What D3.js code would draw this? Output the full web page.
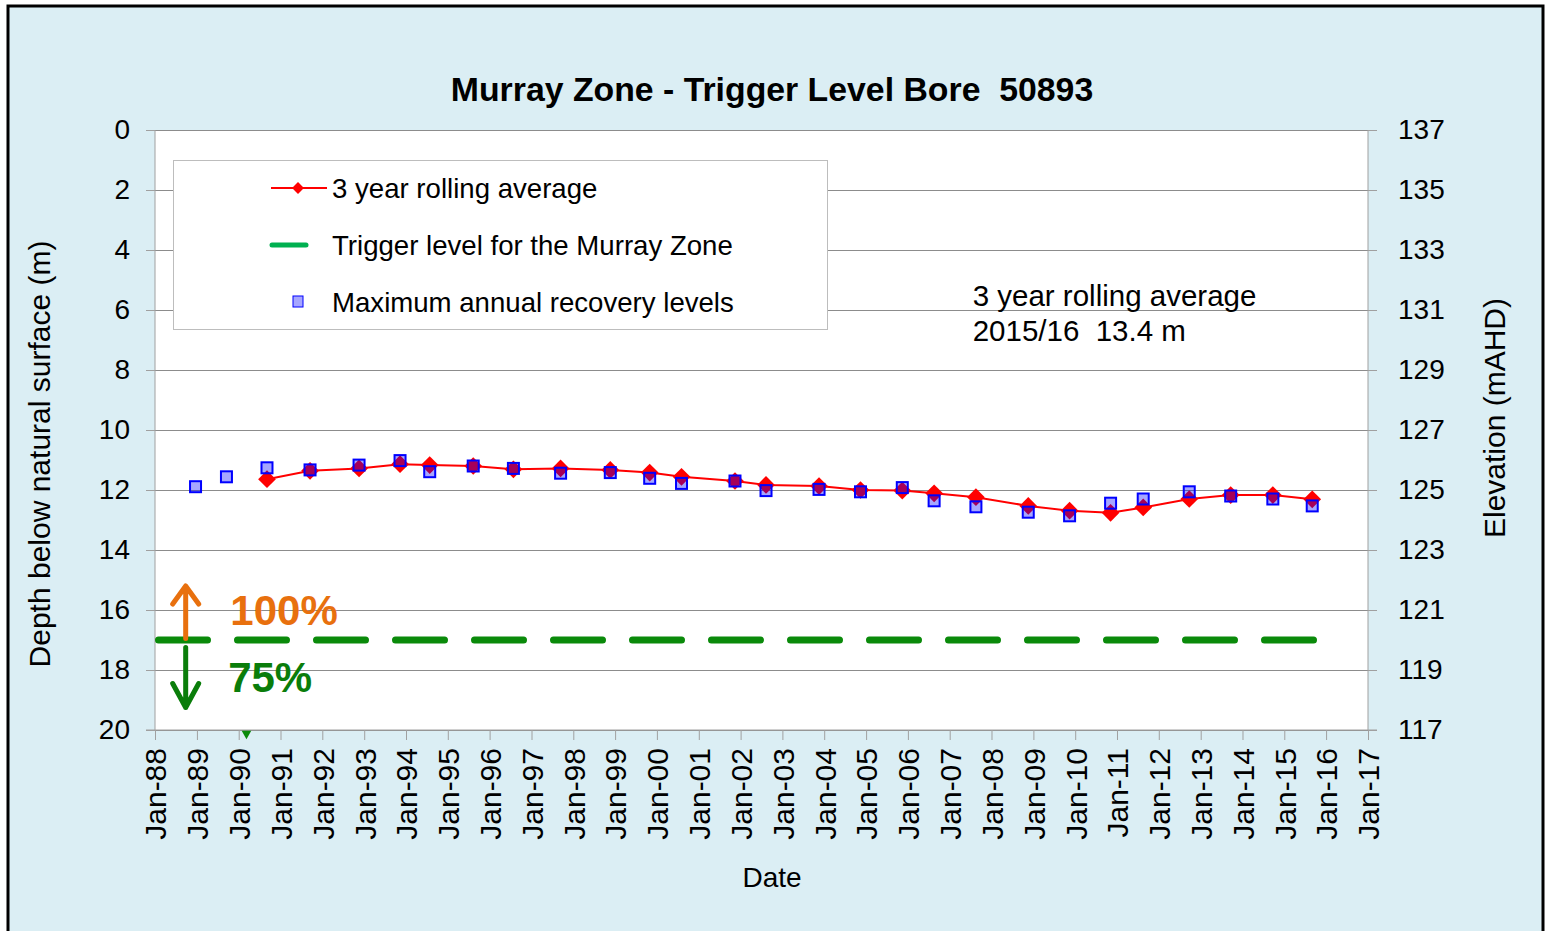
<!DOCTYPE html>
<html>
<head>
<meta charset="utf-8">
<script src="https://cdn.jsdelivr.net/npm/d3@7"></script>
<style>
  body { margin: 0; background: #fff; }
  svg text { font-family: "Liberation Sans", Arial, sans-serif; fill: #000; }
</style>
</head>
<body>
<div id="chart_div"></div>
<script>
// survey dates (same for both series)
var obsDates = ['1988-12-20','1989-09-16','1990-09-05','1991-09-16','1992-11-17','1993-11-10',
  '1994-07-27','1995-08-11','1996-07-27','1997-09-12','1998-11-20','1999-10-30','2000-08-03',
  '2001-11-13','2002-08-11','2003-11-17','2004-11-13','2005-11-13','2006-08-18','2007-08-18',
  '2008-11-17','2009-11-13','2010-11-06','2011-08-18','2012-09-23','2013-09-20','2014-09-23','2015-09-02'];
// maximum annual recovery levels (m below surface)
var maxRecovery = [11.89, 11.56, 11.26, 11.33, 11.17, 11.02, 11.39, 11.20, 11.28, 11.44, 11.42, 11.61, 11.78,
  11.70, 12.02, 11.98, 12.06, 11.92, 12.36, 12.56, 12.74, 12.86, 12.44, 12.30, 12.06, 12.20, 12.30, 12.53];
// 3 year rolling average (starts on the third year)
var rollingAvg = [null, null, 11.64, 11.36, 11.28, 11.14, 11.17, 11.20, 11.31, 11.28, 11.33, 11.42, 11.56,
  11.70, 11.83, 11.87, 12.00, 12.02, 12.11, 12.24, 12.53, 12.69, 12.76, 12.58, 12.30, 12.17, 12.17, 12.31];
// trigger level for the Murray Zone
var triggerDates = ['1988-01-01', '2015-11-05'];
var triggerDepth = [17, 17];
var depthTicks = [0, 2, 4, 6, 8, 10, 12, 14, 16, 18, 20];
var elevTicks = [137, 135, 133, 131, 129, 127, 125, 123, 121, 119, 117];

var W = 1547, H = 931;
var margin = {top: 130, left: 155, right: 179, bottom: 201};
var width = W - margin.left - margin.right,
    height = H - margin.top - margin.bottom;

var parseDate = d3.timeParse('%Y-%m-%d');

var svg = d3.select('#chart_div').append('svg')
  .attr('width', W).attr('height', H);

// outer frame
svg.append('rect')
  .attr('x', 8).attr('y', 6).attr('width', 1535).attr('height', 940)
  .style('fill', '#dbeef4').style('stroke', '#000').style('stroke-width', 3);

var g = svg.append('g').attr('transform', 'translate(' + margin.left + ',' + margin.top + ')');

var xScale = d3.scaleTime()
  .domain([parseDate('1988-01-01'), parseDate('2017-01-01')])
  .range([0, width]);
var yScale = d3.scaleLinear().domain([0, 20]).range([0, height]);
var yElev = d3.scaleLinear().domain([137, 117]).range([0, height]);

g.append('rect')
  .attr('width', width).attr('height', height)
  .style('fill', '#fff');

// gridlines
g.append('g')
  .attr('class', 'grid')
  .call(d3.axisLeft(yScale).tickValues(depthTicks).tickSize(-width).tickFormat(''))
  .call(function(s){ s.select('.domain').remove(); })
  .selectAll('line').style('stroke', '#8c8c8c');

// left axis
g.append('g')
  .attr('class', 'yaxis')
  .call(d3.axisLeft(yScale).tickValues(depthTicks).tickSize(9).tickPadding(16))
  .call(function(s){
    s.select('.domain').attr('d', 'M0,0V' + height).style('stroke', '#a0a0a0');
    s.selectAll('line').style('stroke', '#a0a0a0');
    s.selectAll('text').style('font-size', '28px');
  });

// right axis
g.append('g')
  .attr('class', 'yaxis2')
  .attr('transform', 'translate(' + width + ',0)')
  .call(d3.axisRight(yElev).tickValues(elevTicks).tickSize(9).tickPadding(21))
  .call(function(s){
    s.select('.domain').attr('d', 'M0,0V' + height).style('stroke', '#a0a0a0');
    s.selectAll('line').style('stroke', '#a0a0a0');
    s.selectAll('text').style('font-size', '28px');
  });

// x axis
g.append('g')
  .attr('class', 'xaxis')
  .attr('transform', 'translate(0,' + height + ')')
  .call(d3.axisBottom(xScale).ticks(d3.timeYear.every(1)).tickFormat(d3.timeFormat('%b-%y')).tickSize(10))
  .call(function(s){
    s.select('.domain').attr('d', 'M-9,0H' + (width + 9)).style('stroke', '#a0a0a0');
    s.selectAll('line').style('stroke', '#a0a0a0');
    s.selectAll('text')
      .style('font-size', '30px')
      .attr('text-anchor', 'end')
      .attr('transform', 'rotate(-90)')
      .attr('x', -18).attr('y', 0).attr('dy', '0.36em');
  });

// trigger level
var trigger = triggerDates.map(function(d, i){ return {date: parseDate(d), v: triggerDepth[i]}; });
g.append('path')
  .datum(trigger)
  .attr('d', d3.line().x(function(d){ return xScale(d.date); }).y(function(d){ return yScale(d.v); }))
  .style('fill', 'none')
  .style('stroke', '#0a8a0a')
  .style('stroke-width', 7)
  .style('stroke-linecap', 'round')
  .style('stroke-dasharray', '49 30')
  .style('stroke-dashoffset', '-3.5');

// small marker just below the axis
g.append('path')
  .attr('d', d3.symbol().type(d3.symbolTriangle).size(40))
  .attr('transform', 'translate(' + xScale(parseDate('1990-03-10')) + ',' + yScale(20.12) + ') rotate(180)')
  .style('fill', '#0a8a0a');

var obs = obsDates.map(function(d, i){
  return {date: parseDate(d), maxv: maxRecovery[i], avg: rollingAvg[i]};
});

// rolling average line + diamonds
g.append('path')
  .datum(obs)
  .attr('d', d3.line().defined(function(d){ return d.avg != null; })
    .x(function(d){ return xScale(d.date); }).y(function(d){ return yScale(d.avg); }))
  .style('fill', 'none').style('stroke', '#ff0000').style('stroke-width', 2);

g.selectAll('path.diamond')
  .data(obs.filter(function(d){ return d.avg != null; }))
  .enter().append('path')
  .attr('class', 'diamond')
  .attr('d', d3.symbol().type(d3.symbolDiamond2).size(200))
  .attr('transform', function(d){ return 'translate(' + xScale(d.date) + ',' + yScale(d.avg) + ')'; })
  .style('fill', '#ff0000');

// maximum annual recovery squares
g.selectAll('rect.point')
  .data(obs)
  .enter().append('rect')
  .attr('class', 'point')
  .attr('x', function(d){ return xScale(d.date) - 5.5; })
  .attr('y', function(d){ return yScale(d.maxv) - 5.5; })
  .attr('width', 11).attr('height', 11)
  .style('fill', '#0000ff').style('fill-opacity', 0.35)
  .style('stroke', '#0000ff').style('stroke-width', 2);

// 100% / 75% arrows
var arrowX = xScale(parseDate('1988-09-25'));
var orange = '#e8700e', green = '#0a7d0a';
g.append('path')
  .attr('d', 'M' + arrowX + ',' + yScale(16.95) + 'V' + yScale(15.2) +
    'M' + (arrowX - 13) + ',' + yScale(15.8) + 'L' + arrowX + ',' + yScale(15.2) + 'L' + (arrowX + 13) + ',' + yScale(15.8))
  .style('fill', 'none').style('stroke', orange).style('stroke-width', 5).style('stroke-linecap', 'round').style('stroke-linejoin', 'round');
g.append('path')
  .attr('d', 'M' + arrowX + ',' + yScale(17.25) + 'V' + yScale(19.25) +
    'M' + (arrowX - 13) + ',' + yScale(18.45) + 'L' + arrowX + ',' + yScale(19.25) + 'L' + (arrowX + 13) + ',' + yScale(18.45))
  .style('fill', 'none').style('stroke', green).style('stroke-width', 5).style('stroke-linecap', 'round').style('stroke-linejoin', 'round');
g.append('text')
  .attr('x', xScale(parseDate('1989-10-20'))).attr('y', yScale(16.5))
  .style('font-size', '42px').style('font-weight', 'bold').style('fill', orange)
  .text('100%');
g.append('text')
  .attr('x', xScale(parseDate('1989-10-01'))).attr('y', yScale(18.73))
  .style('font-size', '42px').style('font-weight', 'bold').style('fill', green)
  .text('75%');

// annotation
g.append('text')
  .attr('x', xScale(parseDate('2007-01-01')) + 23).attr('y', yScale(5.87))
  .style('font-size', '29.5px')
  .text('3 year rolling average');
g.append('text')
  .attr('x', xScale(parseDate('2007-01-01')) + 23).attr('y', yScale(7.03))
  .style('font-size', '29.5px').style('white-space', 'pre')
  .text('2015/16  13.4 m');

// legend
var legend = svg.append('g').attr('class', 'legend');
legend.append('rect')
  .attr('x', 173.5).attr('y', 160.5).attr('width', 654).attr('height', 169)
  .style('fill', '#fff').style('stroke', '#bdbdbd');
var legItems = ['3 year rolling average', 'Trigger level for the Murray Zone', 'Maximum annual recovery levels'];
legItems.forEach(function(t, i){
  var ly = 188 + i * 57;
  legend.append('text').attr('x', 332).attr('y', ly).attr('dy', '0.35em')
    .style('font-size', '27.6px').text(t);
});
legend.append('line').attr('x1', 271).attr('x2', 327).attr('y1', 188).attr('y2', 188)
  .style('stroke', '#ff0000').style('stroke-width', 2);
legend.append('path').attr('d', d3.symbol().type(d3.symbolDiamond2).size(90))
  .attr('transform', 'translate(298,188)').style('fill', '#ff0000');
legend.append('line').attr('x1', 272).attr('x2', 306).attr('y1', 245).attr('y2', 245)
  .style('stroke', '#00b050').style('stroke-width', 5).style('stroke-linecap', 'round');
legend.append('rect').attr('x', 293).attr('y', 296).attr('width', 10).attr('height', 11)
  .style('fill', '#0000ff').style('fill-opacity', 0.35).style('stroke', '#0000ff').style('stroke-width', 1);

// titles
svg.append('text')
  .attr('x', 772).attr('y', 101)
  .attr('text-anchor', 'middle')
  .style('font-size', '33.8px').style('font-weight', 'bold').style('white-space', 'pre')
  .text('Murray Zone - Trigger Level Bore  50893');
svg.append('text')
  .attr('x', 772).attr('y', 887)
  .attr('text-anchor', 'middle')
  .style('font-size', '28px')
  .text('Date');
svg.append('text')
  .attr('transform', 'translate(50,454) rotate(-90)')
  .attr('text-anchor', 'middle')
  .style('font-size', '30px')
  .text('Depth below natural surface (m)');
svg.append('text')
  .attr('transform', 'translate(1505,418) rotate(-90)')
  .attr('text-anchor', 'middle')
  .style('font-size', '30px')
  .text('Elevation (mAHD)');
</script>
</body>
</html>
